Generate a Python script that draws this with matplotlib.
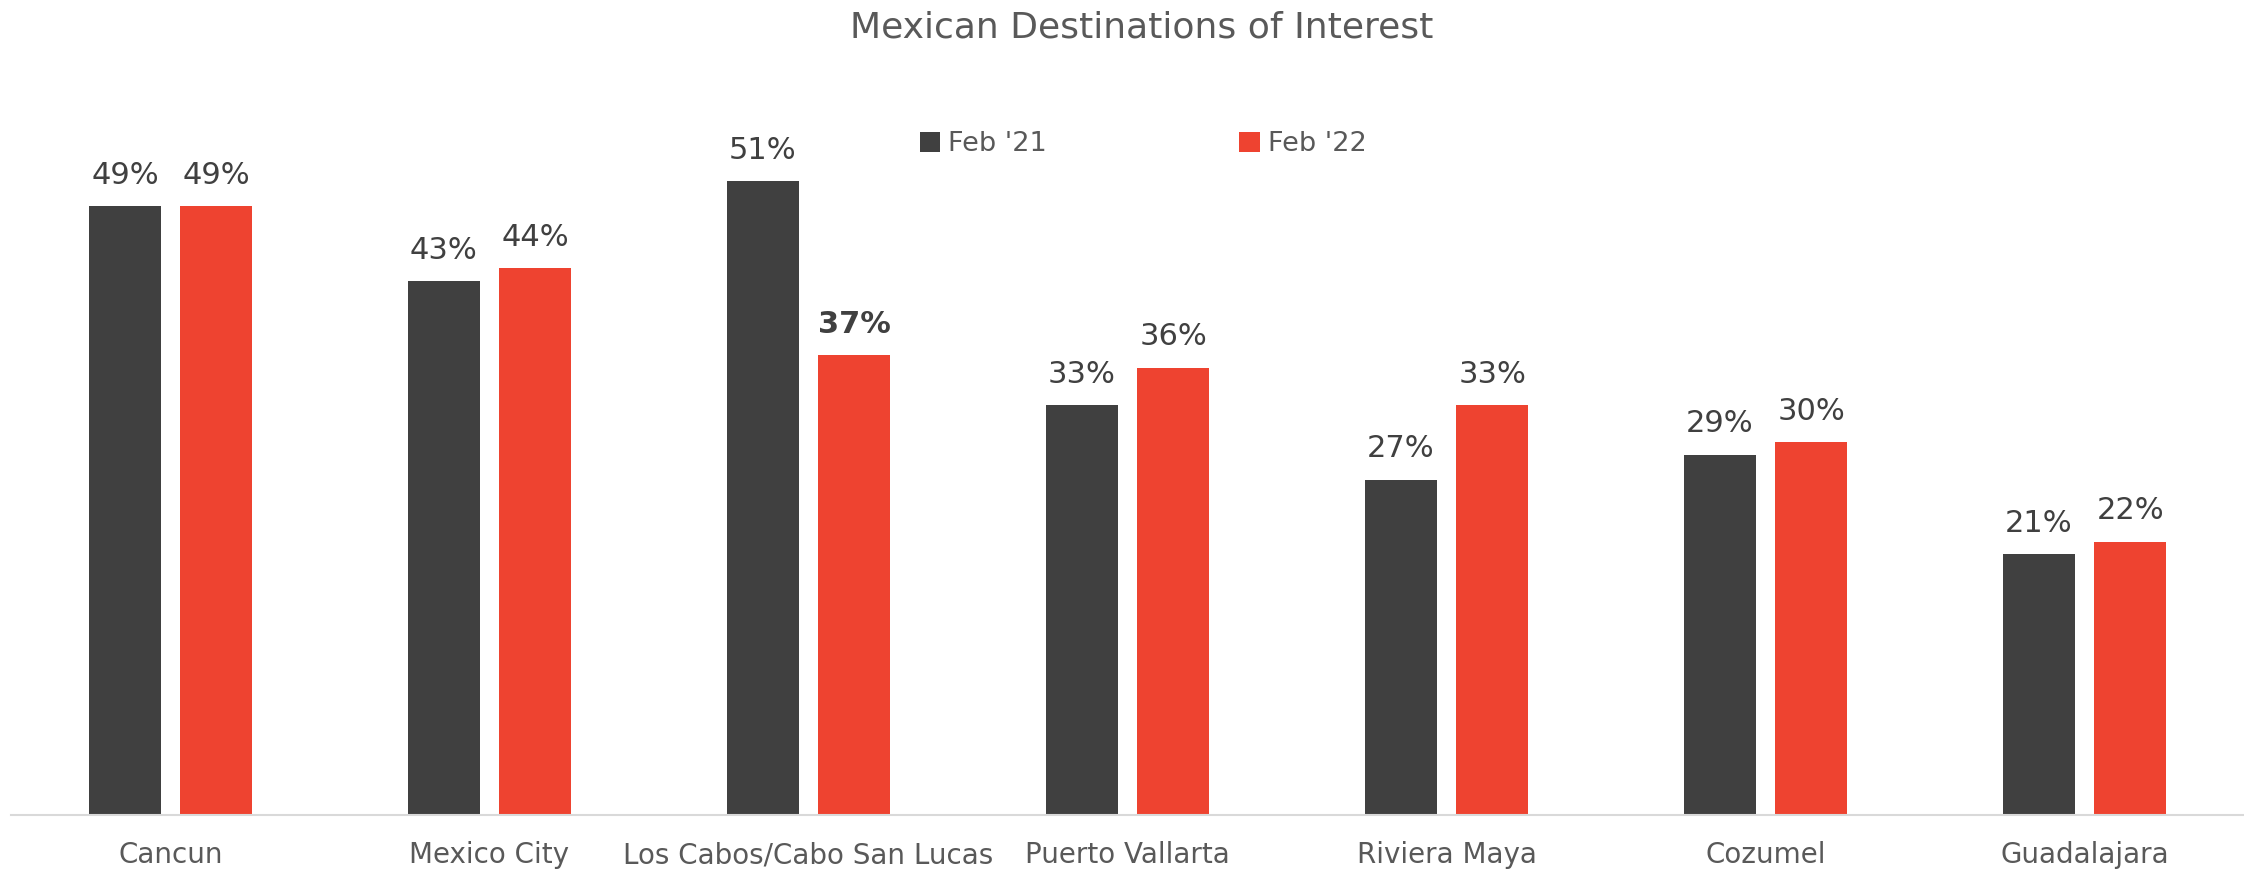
import matplotlib.pyplot as plt
import numpy as np

plt.rcParams['font.family'] = ['DejaVu Sans']

# Share of respondents interested in each destination.
destinations = ['Cancun', 'Mexico City', 'Los Cabos/Cabo San Lucas', 'Puerto Vallarta',
                'Riviera Maya', 'Cozumel', 'Guadalajara']
feb_21 = [49, 43, 51, 33, 27, 29, 21]
feb_22 = [49, 44, 37, 36, 33, 30, 22]
series_names = ["Feb '21", "Feb '22"]

dark = '#404040'
red = '#EE4330'
text_gray = '#595959'

fig = plt.figure(figsize=(22.44, 8.69), dpi=100)
ax = fig.add_axes([0.0049, 0.0622, 0.9951, 0.9378])

x = np.arange(len(destinations))
w = 0.226
off = 0.143

b1 = ax.bar(x - off, feb_21, width=w, color=dark, label=series_names[0])
b2 = ax.bar(x + off, feb_22, width=w, color=red, label=series_names[1])

# Value labels above each bar; the Los Cabos drop is called out in bold.
for i, (bars, vals) in enumerate(((b1, feb_21), (b2, feb_22))):
    for j, (rect, v) in enumerate(zip(bars, vals)):
        bold = (i == 1 and j == 2)
        ax.annotate('%d%%' % v, (rect.get_x() + rect.get_width() / 2, v),
                    xytext=(0, 16), textcoords='offset points',
                    ha='center', va='baseline', fontsize=22,
                    color='#404040',
                    fontweight='bold' if bold else 'normal')

ax.set_xlim(-0.5, 6.5)
ax.set_ylim(0, 65.6)
ax.set_xticks(x)
ax.set_xticklabels(destinations, fontsize=20, color=text_gray)
ax.tick_params(axis='x', length=0, pad=19)
ax.set_yticks([])
for s in ['top', 'right', 'left']:
    ax.spines[s].set_visible(False)
ax.spines['bottom'].set_color('#D9D9D9')
ax.spines['bottom'].set_linewidth(1.5)

fig.text(0.5089, 0.9574, 'Mexican Destinations of Interest', ha='center',
         va='baseline', fontsize=26, color=text_gray)

leg = fig.legend(loc='center', bbox_to_anchor=(0.5095, 0.834), ncol=2, frameon=False,
                 fontsize=19.5, handlelength=0.75, handleheight=0.75,
                 handletextpad=0.3, columnspacing=7.1)
for t in leg.get_texts():
    t.set_color(text_gray)

fig.savefig('out.png', dpi=100)
